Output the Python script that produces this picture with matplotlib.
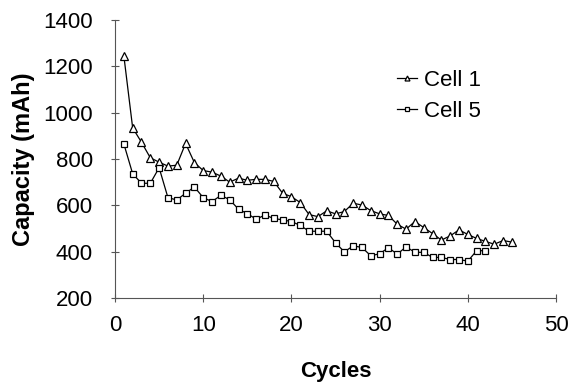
import matplotlib.pyplot as plt
import numpy as np

plt.rcParams['font.family'] = ['Liberation Sans', 'DejaVu Sans']

# capacity readings (mAh) per cycle
cycles_1 = np.arange(1, 46)
cell_1 = [1245, 934, 872, 805, 786, 769, 773, 867, 784, 750,
          743, 726, 700, 717, 708, 712, 712, 703, 652, 637,
          612, 560, 551, 576, 563, 573, 609, 601, 577, 563,
          556, 518, 497, 530, 504, 478, 450, 468, 494, 474,
          457, 444, 432, 448, 441]

cycles_5 = np.arange(1, 43)
cell_5 = [865, 736, 695, 695, 762, 633, 623, 652, 679, 633,
          616, 643, 624, 583, 564, 540, 558, 543, 537, 530,
          513, 488, 488, 488, 438, 399, 425, 418, 382, 391,
          417, 389, 421, 397, 397, 375, 375, 366, 366, 359,
          404, 404]

fig = plt.figure(figsize=(5.7, 3.83), dpi=100)
ax = fig.add_axes([0.2018, 0.222, 0.7737, 0.726])

ax.plot(cycles_1, cell_1, color='black', lw=0.9, marker='^', ms=5.5,
        mfc='white', mec='black', mew=0.9, label='Cell 1')
ax.plot(cycles_5, cell_5, color='black', lw=0.9, marker='s', ms=5,
        mfc='white', mec='black', mew=0.9, label='Cell 5')

ax.set_xlim(0, 50)
ax.set_ylim(200, 1400)
ax.set_xticks(np.arange(0, 51, 10))
ax.set_yticks(np.arange(200, 1401, 200))

for s in ['top', 'right']:
    ax.spines[s].set_visible(False)
for s in ['left', 'bottom']:
    ax.spines[s].set_color('#555555')
    ax.spines[s].set_linewidth(0.8)

ax.tick_params(direction='inout', length=6, width=0.8, color='#555555',
               labelsize=16)
ax.tick_params(axis='x', pad=9)
ax.tick_params(axis='y', pad=13)

ax.set_xlabel('Cycles', fontsize=16, fontweight='bold', labelpad=18)
ax.set_ylabel('Capacity (mAh)', fontsize=17, fontweight='bold', labelpad=6)

ax.legend(loc='center left', bbox_to_anchor=(0.615, 0.728), frameon=False,
          fontsize=16, handlelength=0.9, handletextpad=0.3, borderpad=0,
          labelspacing=0.45, markerscale=0.65)

fig.savefig('out.png', dpi=100)
